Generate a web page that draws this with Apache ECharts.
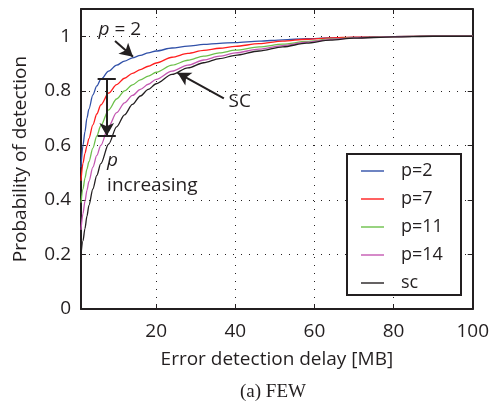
<!DOCTYPE html>
<html>
<head>
<meta charset="utf-8">
<script src="https://cdn.jsdelivr.net/npm/echarts@6/dist/echarts.min.js"></script>
<style>
  html, body { margin: 0; padding: 0; background: #fff; }
  #chart { width: 492px; height: 403px; }
</style>
</head>
<body>
<div id="chart"></div>
<script>
// Error detection delay (MB) at which each detection probability is sampled
const delayMB = [1, 1.5, 2, 2.5, 3, 4, 5, 6, 8, 10, 12, 14, 16, 18, 20, 24, 28, 32, 36, 40, 46, 52, 58, 64, 70, 80, 90, 100];

// Probability of detection per configuration
const probP2  = [0.52, 0.60, 0.65, 0.70, 0.733, 0.785, 0.818, 0.842, 0.872, 0.894, 0.909, 0.921, 0.930, 0.939, 0.946, 0.957, 0.964, 0.970, 0.974, 0.977, 0.982, 0.987, 0.991, 0.994, 0.996, 0.999, 1.0, 1.0];
const probP7  = [0.47, 0.535, 0.57, 0.598, 0.625, 0.675, 0.715, 0.748, 0.792, 0.823, 0.846, 0.864, 0.878, 0.890, 0.902, 0.923, 0.937, 0.948, 0.956, 0.963, 0.973, 0.982, 0.989, 0.994, 0.997, 0.999, 1.0, 1.0];
const probP11 = [0.39, 0.44, 0.48, 0.513, 0.54, 0.59, 0.635, 0.672, 0.73, 0.77, 0.80, 0.822, 0.84, 0.854, 0.868, 0.894, 0.912, 0.927, 0.939, 0.949, 0.961, 0.971, 0.981, 0.989, 0.995, 0.999, 1.0, 1.0];
const probP14 = [0.29, 0.35, 0.395, 0.435, 0.468, 0.52, 0.563, 0.60, 0.67, 0.72, 0.756, 0.783, 0.805, 0.824, 0.842, 0.872, 0.894, 0.913, 0.927, 0.939, 0.953, 0.966, 0.978, 0.988, 0.994, 0.999, 1.0, 1.0];
const probSC  = [0.20, 0.25, 0.295, 0.34, 0.38, 0.44, 0.49, 0.533, 0.605, 0.668, 0.712, 0.75, 0.781, 0.805, 0.826, 0.86, 0.884, 0.903, 0.918, 0.930, 0.946, 0.961, 0.975, 0.986, 0.993, 0.998, 1.0, 1.0];

const seriesNames = ['p=2', 'p=7', 'p=11', 'p=14', 'sc'];
const seriesValues = [probP2, probP7, probP11, probP14, probSC];

// Axis tick labels
const xTicks = [20, 40, 60, 80, 100];
const yTicks = [0, 0.2, 0.4, 0.6, 0.8, 1];

// Annotation anchors, in data units
const p2ArrowFrom = [9.6, 0.983], p2ArrowTo = [14.15, 0.925];
const scArrowFrom = [37.1, 0.772], scArrowTo = [25.4, 0.866];
const rangeX = 7.5, rangeTop = 0.845, rangeBottom = 0.634, capHalf = 2.3;

const INK = '#231f20';
const FONT = '"Open Sans", "Noto Sans", sans-serif';
const colors = ['#3050a8', '#ff1e1e', '#6cc04a', '#c458b2', INK];

const chart = echarts.init(document.getElementById('chart'), null, { renderer: 'canvas' });

function pairs(ys) { return ys.map((y, i) => [delayMB[i], y]); }

const boxAxisLine = { show: true, onZero: false, lineStyle: { color: INK, width: 2 } };
const dotted = { show: true, lineStyle: { type: [1, 7], color: INK, width: 1 } };

const series = seriesNames.map((name, i) => ({
  name,
  type: 'line',
  data: pairs(seriesValues[i]),
  symbol: 'none',
  showSymbol: false,
  smooth: 0.3,
  smoothMonotone: 'x',
  color: colors[i],
  lineStyle: { width: 1.3, color: colors[i] },
  emphasis: { disabled: true },
  animation: false,
  z: 3
}));

// Arrows and the range bar ride on the last series
series[series.length - 1].markLine = {
  silent: true,
  animation: false,
  symbol: ['none', 'arrow'],
  symbolSize: [11, 13],
  label: { show: false },
  emphasis: { disabled: true },
  lineStyle: { color: INK, width: 2, type: 'solid' },
  data: [
    [{ coord: p2ArrowFrom }, { coord: p2ArrowTo }],
    [{ coord: scArrowFrom }, { coord: scArrowTo }],
    [{ coord: [rangeX, rangeTop] }, { coord: [rangeX, rangeBottom] }],
    [{ coord: [rangeX - capHalf, rangeTop], symbol: 'none' }, { coord: [rangeX + capHalf, rangeTop], symbol: 'none' }],
    [{ coord: [rangeX - capHalf, rangeBottom], symbol: 'none' }, { coord: [rangeX + capHalf, rangeBottom], symbol: 'none' }]
  ]
};

chart.setOption({
  backgroundColor: '#fff',
  animation: false,
  grid: { left: 81, right: 16, top: 9, bottom: 94 },
  legend: {
    orient: 'vertical',
    left: 361, top: 162,
    padding: 0,
    icon: 'rect',
    itemWidth: 23, itemHeight: 1.4, itemGap: 10,
    formatter: (name) => '{t|' + name + '}',
    textStyle: {
      color: INK,
      rich: { t: { fontSize: 18, fontFamily: FONT, color: INK, lineHeight: 18, padding: [0, 0, 0, 12] } }
    },
    data: seriesNames
  },
  xAxis: [{
    type: 'value', min: 1, max: 100, position: 'bottom',
    axisLine: boxAxisLine,
    axisTick: { inside: true, length: 5, customValues: xTicks, lineStyle: { color: INK, width: 1 } },
    axisLabel: { customValues: xTicks, color: INK, fontSize: 19, fontFamily: FONT, margin: 13 },
    splitLine: dotted,
    name: 'Error detection delay [MB]',
    nameLocation: 'middle', nameGap: 41,
    nameTextStyle: { color: INK, fontSize: 19, fontFamily: FONT }
  }, {
    type: 'value', min: 1, max: 100, position: 'top',
    axisLine: boxAxisLine,
    axisTick: { inside: true, length: 5, customValues: xTicks, lineStyle: { color: INK, width: 1 } },
    axisLabel: { show: false },
    splitLine: { show: false }
  }],
  yAxis: [{
    type: 'value', min: 0, max: 1.1, position: 'left',
    axisLine: boxAxisLine,
    axisTick: { inside: true, length: 5, customValues: yTicks, lineStyle: { color: INK, width: 1 } },
    axisLabel: { customValues: yTicks, color: INK, fontSize: 19, fontFamily: FONT, margin: 10 },
    splitLine: dotted,
    name: 'Probability of detection',
    nameLocation: 'middle', nameGap: 51,
    nameTextStyle: { color: INK, fontSize: 19, fontFamily: FONT }
  }, {
    type: 'value', min: 0, max: 1.1, position: 'right',
    axisLine: boxAxisLine,
    axisTick: { inside: true, length: 5, customValues: yTicks, lineStyle: { color: INK, width: 1 } },
    axisLabel: { show: false },
    splitLine: { show: false }
  }],
  series
});

// Text annotations placed through the axes' own scales
const toPx = (pt) => chart.convertToPixel({ xAxisIndex: 0, yAxisIndex: 0 }, pt);
const annoFont = { fontSize: 19, fontFamily: FONT, fill: INK };
const pLabel = toPx([10.8, 1.023]);
const scLabel = toPx([38.3, 0.760]);
const pIncLabel = toPx([7.6, 0.544]);
const incLabel = toPx([7.6, 0.452]);

chart.setOption({
  graphic: [
    // legend frame
    { type: 'rect', z: 2, shape: { x: 347, y: 154, width: 114, height: 141 },
      style: { fill: '#fff', stroke: INK, lineWidth: 2 } },
    { type: 'text', x: pLabel[0], y: pLabel[1], z: 10,
      style: Object.assign({ text: '{i|p} = 2', align: 'center', verticalAlign: 'middle',
        rich: { i: { fontStyle: 'italic', fontSize: 19, fontFamily: FONT, fill: INK } } }, annoFont) },
    { type: 'text', x: scLabel[0], y: scLabel[1], z: 10,
      style: Object.assign({ text: 'SC', align: 'left', verticalAlign: 'middle' }, annoFont) },
    { type: 'text', x: pIncLabel[0], y: pIncLabel[1], z: 10,
      style: Object.assign({ text: 'p', align: 'left', verticalAlign: 'middle', fontStyle: 'italic' }, annoFont) },
    { type: 'text', x: incLabel[0], y: incLabel[1], z: 10,
      style: Object.assign({ text: 'increasing', align: 'left', verticalAlign: 'middle' }, annoFont) },
    { type: 'text', x: 273, y: 392, z: 10,
      style: { text: '(a) FEW', align: 'center', verticalAlign: 'middle', fontSize: 19,
        fontFamily: '"Liberation Serif", "DejaVu Serif", serif', fill: INK } }
  ]
});
</script>
</body>
</html>
